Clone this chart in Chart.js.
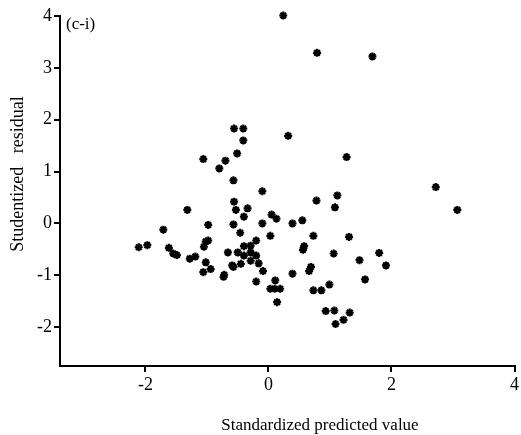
<!DOCTYPE html>
<html>
<head>
<meta charset="utf-8">
<script src="https://cdn.jsdelivr.net/npm/chart.js@4.4.1/dist/chart.umd.min.js"></script>
<style>
    html, body { margin: 0; padding: 0; background: #fff; }
    #wrap { width: 521px; height: 435px; }
</style>
</head>
<body>
<div id="wrap"><canvas id="residChart" width="521" height="435"></canvas></div>
<script>
// Standardized predicted value (x) vs studentized residual (y)
const predicted = [
    0.24, 0.79, 1.69, -0.56, -0.41, -0.41, 0.32, -0.51, -1.06, -0.70,
    -0.80, 1.27, -0.57, -0.10, -0.56, -0.53, -0.34, -1.32, -0.40, 0.78,
    1.12, 1.08, 0.05, 0.13, 2.72, 3.07, -0.98, -0.57, -0.10, 0.39,
    0.55, -1.71, -0.46, 0.03, 0.73, 1.31, -2.11, -1.97, -1.62, -1.55,
    -1.49, -1.28, -1.19, -0.98, -1.02, -1.05, -1.02, -1.06, -0.94, -0.72,
    -0.73, -0.66, -0.50, -0.40, -0.29, -0.20, -0.40, -0.29, -0.20, -0.59,
    -0.57, -0.45, -0.29, -0.16, -0.09, -0.20, 0.11, 0.03, 0.10, 0.19,
    0.58, 0.56, 1.06, 1.80, 1.48, 1.91, 0.69, 0.66, 0.39, 1.57,
    0.73, 0.86, 0.99, 0.14, 0.93, 1.07, 1.32, 1.22, 1.09
];
const residual = [
    4.01, 3.29, 3.22, 1.83, 1.83, 1.60, 1.69, 1.35, 1.24, 1.21,
    1.06, 1.28, 0.83, 0.62, 0.42, 0.26, 0.29, 0.26, 0.13, 0.44,
    0.54, 0.31, 0.17, 0.09, 0.70, 0.26, -0.03, -0.02, 0.00, 0.00,
    0.06, -0.12, -0.18, -0.24, -0.24, -0.26, -0.46, -0.42, -0.47, -0.58,
    -0.61, -0.68, -0.64, -0.33, -0.35, -0.45, -0.75, -0.94, -0.88, -0.99,
    -1.03, -0.56, -0.56, -0.44, -0.43, -0.33, -0.62, -0.56, -0.62, -0.81,
    -0.84, -0.78, -0.72, -0.77, -0.92, -1.12, -1.10, -1.26, -1.26, -1.26,
    -0.44, -0.51, -0.58, -0.57, -0.71, -0.81, -0.84, -0.92, -0.97, -1.08,
    -1.29, -1.29, -1.18, -1.52, -1.69, -1.68, -1.72, -1.86, -1.94
];
const xTicks = [-2, 0, 2, 4];
const yTicks = [-2, -1, 0, 1, 2, 3, 4];

const serif = '"Liberation Serif", "DejaVu Serif", serif';

// axis titles + panel tag drawn on canvas
const textPlugin = {
    id: 'axisText',
    afterDraw(chart) {
        const c = chart.ctx;
        c.save();
        c.fillStyle = '#000';
        c.font = '17px ' + serif;
        c.textBaseline = 'middle';
        c.textAlign = 'left';
        c.fillText('(c-i)', 66, 25);
        c.textAlign = 'center';
        c.fillText('Standardized predicted value', 320, 426);
        c.font = '18px ' + serif;
        c.translate(18, 174);
        c.rotate(-Math.PI / 2);
        c.fillText('Studentized   residual', 0, 0);
        c.restore();
    }
};

const points = predicted.map((x, i) => ({ x: x, y: residual[i] }));

new Chart(document.getElementById('residChart'), {
    type: 'scatter',
    data: {
        datasets: [{
            data: points,
            pointStyle: 'star',
            radius: 4,
            borderWidth: 2.2,
            borderColor: '#000',
            backgroundColor: '#000',
            clip: false
        }]
    },
    options: {
        responsive: false,
        animation: false,
        layout: { padding: { top: 16, right: 4, left: 0, bottom: 0 } },
        plugins: { legend: { display: false }, tooltip: { enabled: false } },
        scales: {
            x: {
                type: 'linear',
                min: -3.39,
                max: 4,
                afterBuildTicks: s => { s.ticks = xTicks.map(v => ({ value: v })); },
                afterFit: s => { s.height = 69; },
                border: { color: '#000', width: 2 },
                grid: { drawOnChartArea: false, color: '#000', lineWidth: 2, tickLength: 6 },
                ticks: { color: '#000', font: { family: serif, size: 18 }, padding: 2, maxRotation: 0 }
            },
            y: {
                type: 'linear',
                min: -2.75,
                max: 4,
                afterBuildTicks: s => { s.ticks = yTicks.map(v => ({ value: v })); },
                afterFit: s => { s.width = 60; },
                border: { color: '#000', width: 2 },
                grid: { drawOnChartArea: false, color: '#000', lineWidth: 2, tickLength: 6 },
                ticks: { color: '#000', font: { family: serif, size: 18 }, padding: 2 }
            }
        }
    },
    plugins: [textPlugin]
});
</script>
</body>
</html>
